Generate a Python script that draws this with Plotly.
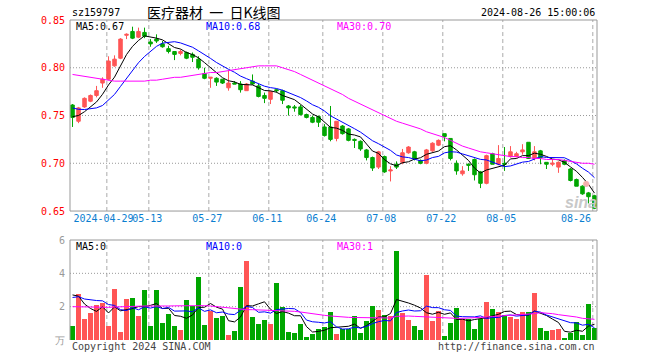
import plotly.graph_objects as go

# ---------------- data ----------------
dates = [
    "2024-04-19", "2024-04-22", "2024-04-23", "2024-04-24", "2024-04-25", "2024-04-26",
    "2024-04-29", "2024-04-30", "2024-05-06", "2024-05-07", "2024-05-08", "2024-05-09",
    "2024-05-10", "2024-05-13", "2024-05-14", "2024-05-15", "2024-05-16", "2024-05-17",
    "2024-05-20", "2024-05-21", "2024-05-22", "2024-05-23", "2024-05-24", "2024-05-27",
    "2024-05-28", "2024-05-29", "2024-05-30", "2024-05-31", "2024-06-03", "2024-06-04",
    "2024-06-05", "2024-06-06", "2024-06-07", "2024-06-11", "2024-06-12", "2024-06-13",
    "2024-06-14", "2024-06-17", "2024-06-18", "2024-06-19", "2024-06-20", "2024-06-21",
    "2024-06-24", "2024-06-25", "2024-06-26", "2024-06-27", "2024-06-28", "2024-07-01",
    "2024-07-02", "2024-07-03", "2024-07-04", "2024-07-05", "2024-07-08", "2024-07-09",
    "2024-07-10", "2024-07-11", "2024-07-12", "2024-07-15", "2024-07-16", "2024-07-17",
    "2024-07-18", "2024-07-19", "2024-07-22", "2024-07-23", "2024-07-24", "2024-07-25",
    "2024-07-26", "2024-07-29", "2024-07-30", "2024-07-31", "2024-08-01", "2024-08-02",
    "2024-08-05", "2024-08-06", "2024-08-07", "2024-08-08", "2024-08-09", "2024-08-12",
    "2024-08-13", "2024-08-14", "2024-08-15", "2024-08-16", "2024-08-19", "2024-08-20",
    "2024-08-21", "2024-08-22", "2024-08-23", "2024-08-26",
]

opens = [
    0.761, 0.744, 0.759, 0.765, 0.771, 0.784, 0.788, 0.802, 0.810, 0.834, 0.838, 0.832,
    0.837, 0.827, 0.830, 0.825, 0.820, 0.817, 0.815, 0.816, 0.814, 0.809, 0.794, 0.789,
    0.789, 0.788, 0.779, 0.784, 0.783, 0.776, 0.786, 0.781, 0.771, 0.767, 0.777, 0.776,
    0.760, 0.759, 0.759, 0.751, 0.748, 0.749, 0.738, 0.738, 0.726, 0.739, 0.736, 0.725,
    0.723, 0.714, 0.706, 0.696, 0.707, 0.692, 0.699, 0.701, 0.711, 0.712, 0.703, 0.700,
    0.713, 0.719, 0.731, 0.726, 0.700, 0.689, 0.699, 0.704, 0.691, 0.679, 0.710, 0.699,
    0.700, 0.707, 0.707, 0.712, 0.722, 0.705, 0.713, 0.701, 0.699, 0.696, 0.703, 0.694,
    0.683, 0.676, 0.669, 0.666,
]
highs = [
    0.762, 0.759, 0.769, 0.772, 0.781, 0.790, 0.812, 0.813, 0.831, 0.836, 0.843, 0.842,
    0.842, 0.830, 0.835, 0.828, 0.823, 0.817, 0.819, 0.817, 0.816, 0.812, 0.800, 0.790,
    0.790, 0.788, 0.797, 0.786, 0.786, 0.784, 0.793, 0.783, 0.774, 0.776, 0.778, 0.777,
    0.761, 0.761, 0.761, 0.752, 0.750, 0.750, 0.741, 0.760, 0.744, 0.740, 0.737, 0.726,
    0.724, 0.715, 0.707, 0.713, 0.708, 0.697, 0.702, 0.715, 0.718, 0.713, 0.704, 0.715,
    0.722, 0.725, 0.731, 0.726, 0.703, 0.697, 0.700, 0.705, 0.692, 0.709, 0.711, 0.719,
    0.717, 0.718, 0.712, 0.720, 0.722, 0.718, 0.714, 0.701, 0.704, 0.702, 0.704, 0.695,
    0.684, 0.677, 0.670, 0.667,
]
lows = [
    0.738, 0.742, 0.758, 0.764, 0.769, 0.779, 0.787, 0.801, 0.809, 0.830, 0.830, 0.831,
    0.831, 0.822, 0.826, 0.821, 0.815, 0.808, 0.813, 0.809, 0.806, 0.798, 0.788, 0.779,
    0.781, 0.783, 0.776, 0.783, 0.774, 0.776, 0.782, 0.769, 0.763, 0.762, 0.774, 0.762,
    0.750, 0.754, 0.750, 0.747, 0.742, 0.738, 0.728, 0.723, 0.723, 0.730, 0.723, 0.716,
    0.713, 0.703, 0.692, 0.694, 0.690, 0.681, 0.694, 0.699, 0.710, 0.703, 0.699, 0.699,
    0.712, 0.718, 0.723, 0.703, 0.688, 0.687, 0.692, 0.682, 0.674, 0.678, 0.699, 0.698,
    0.692, 0.706, 0.706, 0.709, 0.705, 0.703, 0.699, 0.694, 0.697, 0.690, 0.698, 0.681,
    0.676, 0.667, 0.658, 0.652,
]
closes = [
    0.748, 0.758, 0.768, 0.771, 0.776, 0.788, 0.807, 0.809, 0.830, 0.835, 0.831, 0.838,
    0.833, 0.825, 0.828, 0.822, 0.817, 0.814, 0.817, 0.810, 0.811, 0.800, 0.789, 0.790,
    0.785, 0.784, 0.784, 0.783, 0.777, 0.783, 0.783, 0.770, 0.768, 0.775, 0.776, 0.766,
    0.758, 0.758, 0.751, 0.748, 0.743, 0.743, 0.729, 0.725, 0.744, 0.731, 0.724, 0.724,
    0.715, 0.706, 0.695, 0.712, 0.691, 0.693, 0.696, 0.711, 0.717, 0.705, 0.700, 0.714,
    0.721, 0.724, 0.728, 0.705, 0.692, 0.692, 0.698, 0.688, 0.679, 0.708, 0.699, 0.705,
    0.699, 0.712, 0.710, 0.714, 0.705, 0.712, 0.706, 0.699, 0.700, 0.701, 0.699, 0.682,
    0.676, 0.668, 0.665, 0.653,
]
# volume (unit: 万手)
volumes = [
    0.82, 2.74, 1.24, 1.65, 2.13, 2.22, 0.87, 3.08, 0.46, 2.48, 2.54, 1.47,
    3.03, 0.87, 3.03, 1.04, 1.55, 0.87, 0.63, 2.42, 2.04, 3.81, 0.93, 1.75,
    1.31, 1.47, 0.33, 0.57, 3.21, 4.72, 1.38, 0.96, 1.20, 0.96, 3.44, 1.98,
    0.48, 0.42, 0.96, 0.18, 0.36, 0.66, 0.78, 1.70, 0.36, 0.64, 0.64, 1.44,
    0.44, 1.16, 2.04, 1.80, 1.50, 1.44, 5.36, 1.60, 1.20, 0.84, 0.61, 3.93,
    1.16, 1.76, 0.25, 1.03, 1.95, 1.26, 1.26, 0.64, 1.26, 2.26, 1.84, 1.70,
    1.50, 1.36, 1.24, 1.66, 1.66, 2.80, 0.70, 0.52, 0.60, 0.64, 0.15, 0.43,
    1.10, 0.30, 2.18, 0.70,
]
# closes / volumes of the sessions just before the window (needed for MA5/MA10)
prior_closes = [0.772, 0.770, 0.766, 0.764, 0.763, 0.752, 0.748, 0.746, 0.750]
prior_volumes = [2.3, 2.6, 2.2, 2.5, 2.4, 3.1, 3.6, 3.0, 3.0]
# 30-day moving averages
ma30_price = [
    0.793, 0.792, 0.791, 0.790, 0.789, 0.788, 0.787, 0.786, 0.786, 0.786, 0.786, 0.786,
    0.786, 0.787, 0.787, 0.788, 0.789, 0.790, 0.790, 0.791, 0.792, 0.793, 0.794, 0.795,
    0.795, 0.796, 0.797, 0.798, 0.799, 0.800, 0.801, 0.802, 0.802, 0.802, 0.802, 0.800,
    0.798, 0.796, 0.793, 0.790, 0.787, 0.784, 0.781, 0.778, 0.775, 0.772, 0.768, 0.765,
    0.762, 0.759, 0.756, 0.753, 0.750, 0.747, 0.744, 0.742, 0.740, 0.738, 0.736, 0.733,
    0.731, 0.729, 0.727, 0.724, 0.721, 0.718, 0.716, 0.714, 0.712, 0.711, 0.710, 0.709,
    0.708, 0.707, 0.707, 0.706, 0.706, 0.705, 0.705, 0.704, 0.704, 0.704, 0.703, 0.702,
    0.701, 0.700, 0.700, 0.699,
]
ma30_vol = [
    2.00, 1.99, 1.98, 1.97, 1.96, 1.95, 1.96, 1.98, 2.00, 2.02, 2.04, 2.04,
    2.04, 2.04, 2.03, 2.03, 2.04, 2.05, 2.06, 2.06, 2.07, 2.07, 2.06, 2.04,
    2.00, 1.96, 1.92, 1.88, 1.84, 1.82, 1.82, 1.81, 1.80, 1.80, 1.78, 1.76,
    1.74, 1.72, 1.68, 1.62, 1.56, 1.52, 1.48, 1.44, 1.40, 1.38, 1.36, 1.35,
    1.34, 1.33, 1.32, 1.30, 1.30, 1.32, 1.42, 1.44, 1.44, 1.42, 1.40, 1.38,
    1.34, 1.32, 1.30, 1.30, 1.30, 1.30, 1.31, 1.33, 1.35, 1.38, 1.41, 1.43,
    1.44, 1.46, 1.48, 1.50, 1.54, 1.58, 1.64, 1.62, 1.58, 1.52, 1.48, 1.44,
    1.38, 1.30, 1.26, 1.24,
]
tick_dates = ["2024-04-29", "2024-05-13", "2024-05-27", "2024-06-11", "2024-06-24",
              "2024-07-08", "2024-07-22", "2024-08-05", "2024-08-26"]
tick_labels = ["2024-04-29", "05-13", "05-27", "06-11", "06-24",
               "07-08", "07-22", "08-05", "08-26"]
price_ticks = [0.65, 0.70, 0.75, 0.80, 0.85]
vol_ticks = [0, 2, 4, 6]
vol_tick_labels = ["万", "2", "4", "6"]

# ---------------- derived ----------------
def moving_avg(prior, vals, w):
    allv = prior + vals
    p = len(prior)
    return [sum(allv[j - w + 1:j + 1]) / w for j in range(p, len(allv))]

ma5 = moving_avg(prior_closes, closes, 5)
ma10 = moving_avg(prior_closes, closes, 10)
vma5 = moving_avg(prior_volumes, volumes, 5)
vma10 = moving_avg(prior_volumes, volumes, 10)

n = len(dates)
xs = list(range(n))
RED = "#ff5555"
GREEN = "#00a600"
bar_colors = [RED if c > o else GREEN for o, c in zip(opens, closes)]
MONO = "DejaVu Sans Mono"
GRID_OFF = -0.28
grid_pos = [dates.index(d) + GRID_OFF for d in tick_dates]
# labels sit slightly left of their grid line; the first is nudged further so it
# does not collide, the last is pulled inside the plot like the original
label_pos = [g - 0.25 for g in grid_pos]
label_pos[0] -= 0.3
label_pos[-1] = grid_pos[-1] - 2.8

fig = go.Figure()
fig.add_trace(go.Candlestick(
    x=xs, open=opens, high=highs, low=lows, close=closes,
    increasing=dict(line=dict(color=RED, width=1), fillcolor=RED),
    decreasing=dict(line=dict(color=GREEN, width=1), fillcolor=GREEN),
    whiskerwidth=0, showlegend=False, hoverinfo="skip", xaxis="x", yaxis="y"))
for ys, col in ((ma5, "#000000"), (ma10, "#0000ff"), (ma30_price, "#ff00ff")):
    fig.add_trace(go.Scatter(x=xs, y=ys, mode="lines", line=dict(color=col, width=1),
                             showlegend=False, hoverinfo="skip", xaxis="x", yaxis="y"))

fig.add_trace(go.Bar(x=xs, y=volumes, marker=dict(color=bar_colors, line=dict(width=0)),
                     width=0.8, showlegend=False, hoverinfo="skip", xaxis="x2", yaxis="y2"))
for ys, col in ((vma5, "#000000"), (vma10, "#0000ff"), (ma30_vol, "#ff00ff")):
    fig.add_trace(go.Scatter(x=xs, y=ys, mode="lines", line=dict(color=col, width=1),
                             showlegend=False, hoverinfo="skip", xaxis="x2", yaxis="y2"))

xr = [-0.42, n - 0.58]
shapes = []
GRID = "#aaaaaa"
for tp in grid_pos:
    for yr in ("y domain", "y2 domain"):
        shapes.append(dict(type="line", xref="x", yref=yr, x0=tp, x1=tp, y0=0, y1=1,
                           line=dict(color=GRID, width=1, dash="4px,3px"), layer="below"))
for yv in (0.70, 0.75, 0.80):
    shapes.append(dict(type="line", xref="x domain", yref="y", x0=0, x1=1, y0=yv, y1=yv,
                       line=dict(color="#999999", width=1, dash="1px,2px"), layer="below"))
for yv in (2, 4):
    shapes.append(dict(type="line", xref="x domain", yref="y2", x0=0, x1=1, y0=yv, y1=yv,
                       line=dict(color="#999999", width=1, dash="1px,2px"), layer="below"))
BORDER = "#999999"
shapes.append(dict(type="rect", xref="x domain", yref="y domain", x0=0, x1=1, y0=0, y1=1,
                   line=dict(color=BORDER, width=1)))
for x0, y0, x1, y1 in ((0, 1, 1, 1), (0, 0, 0, 1), (1, 0, 1, 1)):
    shapes.append(dict(type="line", xref="x domain", yref="y2 domain", x0=x0, x1=x1,
                       y0=y0, y1=y1, line=dict(color=BORDER, width=1)))

# pixel helpers (plot area: left 70, top 20, width 527, height 320)
L, T, W, H = 70, 20, 527, 320
def px(x):
    return (x - L) / W
def py(y):
    return (T + H - y) / H

def ann(text, x, y, color, size=10, xanchor="left", family=MONO, **kw):
    return dict(text=text, x=px(x), y=py(y), xref="paper", yref="paper", showarrow=False,
                xanchor=xanchor, yanchor="middle", font=dict(family=family, size=size, color=color), **kw)

annotations = [
    ann("sz159797", 70, 12.5, "#000000"),
    ann("医疗器材  一  日K线图", 213.5, 12, "#000000", size=14, xanchor="center",
        family="Noto Sans CJK SC"),
    ann("2024-08-26 15:00:06", 597, 12.5, "#000000", xanchor="right"),
    ann("MA5:%.2f" % ma5[-1], 74, 26, "#000000"),
    ann("MA10:%.2f" % ma10[-1], 204.5, 26, "#0000ff"),
    ann("MA30:%.2f" % ma30_price[-1], 334.5, 26, "#ff00ff"),
    ann("MA5:%d" % int(vma5[-1]), 74, 246.5, "#000000"),
    ann("MA10:%d" % int(vma10[-1]), 204.5, 246.5, "#0000ff"),
    ann("MA30:%d" % int(ma30_vol[-1]), 334.5, 246.5, "#ff00ff"),
    ann("Copyright 2024 SINA.COM", 69.5, 346.5, "#444444"),
    ann("http://finance.sina.com.cn", 597, 346.5, "#444444", xanchor="right"),
    ann("<b><i>sina</i></b>", 581, 202, "#c8c8c8", size=16, xanchor="center", family="Liberation Sans"),
    ann("●", 586, 183, "#f4b0b0", size=8, xanchor="center", family="DejaVu Sans"),
]

fig.update_layout(
    width=660, height=360,
    margin=dict(l=L, r=660 - L - W, t=T, b=360 - T - H),
    paper_bgcolor="white", plot_bgcolor="white",
    boxgap=0.17,
    bargap=0,
    showlegend=False,
    shapes=shapes,
    annotations=annotations,
    xaxis=dict(domain=[0, 1], range=xr, anchor="y", showgrid=False, zeroline=False,
               showline=False, ticks="", tickvals=label_pos, ticktext=tick_labels,
               tickangle=0, automargin=False,
               tickfont=dict(family=MONO, size=10, color="#0a7ed0"),
               rangeslider=dict(visible=False), fixedrange=True),
    yaxis=dict(domain=[0.403, 1], range=[0.65, 0.85], anchor="x", showgrid=False,
               zeroline=False, showline=False, ticks="", tickvals=price_ticks,
               ticktext=["%.2f" % v for v in price_ticks], automargin=False,
               tickfont=dict(family=MONO, size=10, color="#ff0000"), ticklabelstandoff=4),
    xaxis2=dict(domain=[0, 1], range=xr, anchor="y2", matches="x", showgrid=False,
                zeroline=False, showline=False, showticklabels=False, ticks=""),
    yaxis2=dict(domain=[0, 0.3125], range=[0, 6], anchor="x2", showgrid=False,
                zeroline=False, showline=False, ticks="", tickvals=vol_ticks,
                ticktext=vol_tick_labels, automargin=False,
                tickfont=dict(family=MONO, size=10, color="#999999"), ticklabelstandoff=4),
)

fig.write_html("out.html", config={"displayModeBar": False, "staticPlot": True},
               post_script="document.body.style.margin='0';")
